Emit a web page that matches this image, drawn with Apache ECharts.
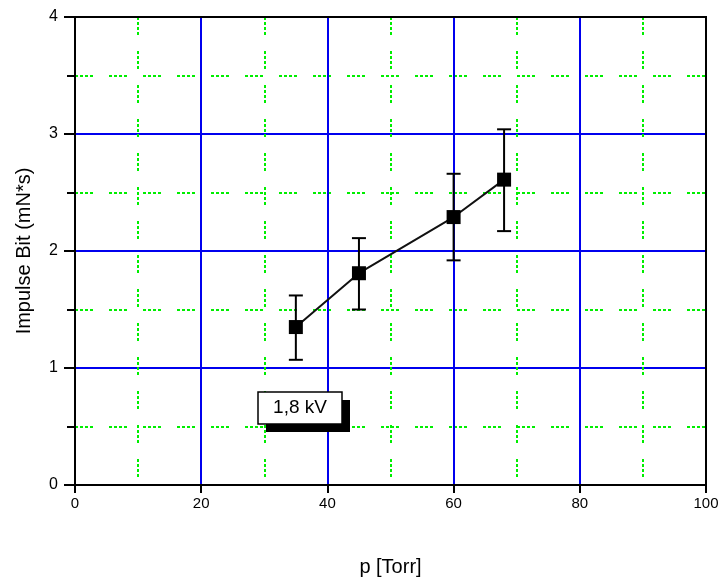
<!DOCTYPE html>
<html>
<head>
<meta charset="utf-8">
<script src="https://cdn.jsdelivr.net/npm/echarts@6/dist/echarts.min.js"></script>
<style>
  html, body { margin: 0; padding: 0; background: #fff; }
  #chart { width: 720px; height: 581px; }
</style>
</head>
<body>
<div id="chart"></div>
<script>
const pressure = [35, 45, 60, 68];
const impulse = [1.35, 1.81, 2.29, 2.61];
const errLow = [1.07, 1.50, 1.92, 2.17];
const errHigh = [1.62, 2.11, 2.66, 3.04];
const xTicks = [0, 20, 40, 60, 80, 100];
const yTicks = [0, 1, 2, 3, 4];

const chart = echarts.init(document.getElementById('chart'));
const font = 'Liberation Sans, Arial, sans-serif';
const greenDash = [3, 2, 3, 2, 3, 2, 3, 16];

const option = {
  animation: false,
  grid: { left: 75, right: 14, top: 17, bottom: 96, outerBoundsMode: 'none' },
  xAxis: {
    type: 'value', min: 0, max: 100, interval: 20,
    name: 'p [Torr]', nameLocation: 'middle', nameGap: 72,
    nameTextStyle: { fontFamily: font, fontSize: 20, color: '#000' },
    axisLine: { show: true, lineStyle: { color: '#000', width: 2 } },
    axisTick: { show: true, length: 8, lineStyle: { color: '#000', width: 2 } },
    axisLabel: { fontFamily: font, fontSize: 15, color: '#000', margin: 11,
      formatter: v => xTicks.includes(v) ? String(v) : '' },
    splitLine: { show: true, lineStyle: { color: '#0000ee', width: 2 } },
    minorTick: { show: false, splitNumber: 2 },
    minorSplitLine: { show: true, lineStyle: { color: '#00ee00', width: 2, type: greenDash } }
  },
  yAxis: {
    type: 'value', min: 0, max: 4, interval: 1,
    name: 'Impulse Bit (mN*s)', nameLocation: 'middle', nameGap: 41,
    nameTextStyle: { fontFamily: font, fontSize: 20, color: '#000' },
    axisLine: { show: true, lineStyle: { color: '#000', width: 2 } },
    axisTick: { show: true, length: 11, lineStyle: { color: '#000', width: 2 } },
    axisLabel: { fontFamily: font, fontSize: 16, color: '#000', margin: 17,
      formatter: v => yTicks.includes(v) ? String(v) : '' },
    splitLine: { show: true, lineStyle: { color: '#0000ee', width: 2 } },
    minorTick: { show: true, splitNumber: 2, length: 8, lineStyle: { color: '#000', width: 2 } },
    minorSplitLine: { show: true, lineStyle: { color: '#00ee00', width: 2, type: greenDash } }
  },
  graphic: [
    { type: 'rect', shape: { x: 75, y: 17, width: 631, height: 468 },
      style: { fill: 'none', stroke: '#000', lineWidth: 2 }, z: 10, silent: true },
    { type: 'rect', shape: { x: 266, y: 400, width: 84, height: 32 },
      style: { fill: '#000' }, z: 20 },
    { type: 'rect', shape: { x: 258, y: 392, width: 84, height: 32 },
      style: { fill: '#fff', stroke: '#000', lineWidth: 1.5 }, z: 21 },
    { type: 'text', x: 300, y: 408, z: 22,
      style: { text: '1,8 kV', fontFamily: font, fontSize: 19, fill: '#000',
        align: 'center', verticalAlign: 'middle' } }
  ],
  series: [
    {
      type: 'custom',
      data: pressure.map((p, i) => [p, errLow[i], errHigh[i]]),
      renderItem: (params, api) => {
        const lo = api.coord([api.value(0), api.value(1)]);
        const hi = api.coord([api.value(0), api.value(2)]);
        const w = 7;
        const st = { stroke: '#000', lineWidth: 2 };
        return {
          type: 'group',
          children: [
            { type: 'line', shape: { x1: lo[0], y1: lo[1], x2: hi[0], y2: hi[1] }, style: st },
            { type: 'line', shape: { x1: lo[0] - w, y1: lo[1], x2: lo[0] + w, y2: lo[1] }, style: st },
            { type: 'line', shape: { x1: hi[0] - w, y1: hi[1], x2: hi[0] + w, y2: hi[1] }, style: st }
          ]
        };
      },
      z: 5
    },
    {
      type: 'line',
      data: pressure.map((p, i) => [p, impulse[i]]),
      symbol: 'rect', symbolSize: 14,
      lineStyle: { color: '#111', width: 2 },
      itemStyle: { color: '#000' },
      z: 6
    }
  ]
};
chart.setOption(option);
</script>
</body>
</html>
